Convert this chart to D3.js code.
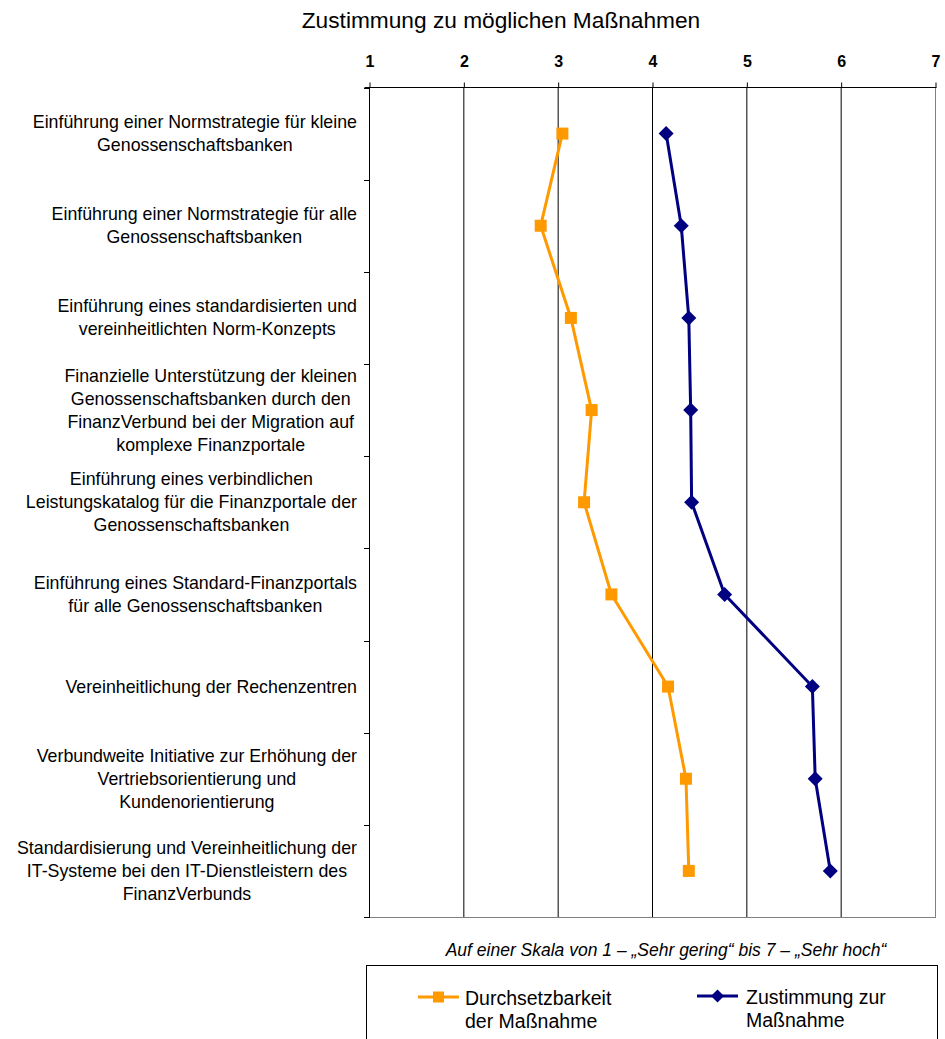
<!DOCTYPE html>
<html><head><meta charset="utf-8">
<script src="https://cdn.jsdelivr.net/npm/d3@7"></script>
<style>
body{margin:0;background:#fff;}
svg{display:block;font-family:"Liberation Sans",Arial,sans-serif;}
</style></head>
<body>
<svg id="chart" width="945" height="1039"></svg>
<script>
const title = "Zustimmung zu möglichen Maßnahmen";
const categories = [
  ["Einführung einer Normstrategie für kleine","Genossenschaftsbanken"],
  ["Einführung einer Normstrategie für alle","Genossenschaftsbanken"],
  ["Einführung eines standardisierten und","vereinheitlichten Norm-Konzepts"],
  ["Finanzielle Unterstützung der kleinen","Genossenschaftsbanken durch den","FinanzVerbund bei der Migration auf","komplexe Finanzportale"],
  ["Einführung eines verbindlichen","Leistungskatalog für die Finanzportale der","Genossenschaftsbanken"],
  ["Einführung eines Standard-Finanzportals","für alle Genossenschaftsbanken"],
  ["Vereinheitlichung der Rechenzentren"],
  ["Verbundweite Initiative zur Erhöhung der","Vertriebsorientierung und","Kundenorientierung"],
  ["Standardisierung und Vereinheitlichung der","IT-Systeme bei den IT-Dienstleistern des","FinanzVerbunds"]
];
const durchsetzbarkeit = [3.05, 2.82, 3.14, 3.36, 3.28, 3.57, 4.17, 4.36, 4.39];
const zustimmung = [4.15, 4.31, 4.39, 4.41, 4.42, 4.77, 5.70, 5.73, 5.89];
const xTicks = [1, 2, 3, 4, 5, 6, 7];
const seriesNames = [["Durchsetzbarkeit","der Maßnahme"],["Zustimmung zur","Maßnahme"]];
const note = "Auf einer Skala von 1 – „Sehr gering“ bis 7 – „Sehr hoch“";

(function(){
const svg = d3.select("#chart");
const pL = 369, pR = 935, pT = 87.5, pB = 917;
const ORANGE = "#FF9900", NAVY = "#000080";

const x = d3.scaleLinear().domain([1,7]).range([pL,pR]);
const y = d3.scaleBand().domain(d3.range(categories.length)).range([pT,pB]).padding(0);
const yc = i => y(i) + y.bandwidth()/2;

svg.append("text").attr("x",501).attr("y",28).attr("text-anchor","middle")
  .attr("font-size",22.7).attr("fill","#000").text(title);

svg.append("g").selectAll("line").data(xTicks.slice(1,-1)).join("line")
  .attr("x1",d=>x(d)+0.5).attr("x2",d=>x(d)+0.5).attr("y1",pT).attr("y2",pB)
  .attr("stroke","#000").attr("stroke-width",1);
svg.append("line").attr("x1",x(7)+0.5).attr("x2",x(7)+0.5).attr("y1",pT).attr("y2",pB)
  .attr("stroke","#808080");
svg.append("line").attr("x1",pL).attr("x2",pR+1).attr("y1",pB+0.5).attr("y2",pB+0.5)
  .attr("stroke","#808080");

const gx = svg.append("g").attr("transform",`translate(0.5,${pT})`)
  .call(d3.axisTop(x).tickValues(xTicks).tickSize(5).tickPadding(16).tickSizeOuter(0).tickFormat(d3.format("d")));
gx.select(".domain").attr("stroke","#000").attr("d",`M${pL-5},0H${pR+1}`);
gx.selectAll(".tick line").attr("stroke","#000");
gx.selectAll(".tick text").attr("font-size",16).attr("font-weight","bold").attr("fill","#000")
  .attr("font-family","'Liberation Sans',Arial,sans-serif");

svg.append("line").attr("x1",pL+0.5).attr("x2",pL+0.5).attr("y1",pT).attr("y2",pB+1).attr("stroke","#000");
const bounds = d3.range(categories.length).map(i=>y(i)+y.bandwidth()).concat([pT]);
svg.append("g").selectAll("line").data(bounds).join("line")
  .attr("x1",pL-5).attr("x2",pL).attr("y1",d=>Math.round(d)+0.5).attr("y2",d=>Math.round(d)+0.5)
  .attr("stroke","#000");

const lh = 23, labelRight = 357;
const lab = svg.append("g").attr("font-size",17.8).attr("fill","#000");
categories.forEach((lines,i)=>{
  const g = lab.append("g");
  const texts = lines.map((t,k)=> g.append("text").attr("text-anchor","middle")
    .attr("y", yc(i) + (k - (lines.length-1)/2)*lh + 6).text(t));
  const maxW = d3.max(texts, t=>t.node().getComputedTextLength());
  texts.forEach(t=>t.attr("x", labelRight - maxW/2));
});

const line = d3.line().x(d=>x(d[1])).y(d=>yc(d[0]));
svg.append("path").datum(durchsetzbarkeit.map((v,i)=>[i,v])).attr("d",line)
  .attr("fill","none").attr("stroke",ORANGE).attr("stroke-width",3);
svg.append("path").datum(zustimmung.map((v,i)=>[i,v])).attr("d",line)
  .attr("fill","none").attr("stroke",NAVY).attr("stroke-width",3);

const sq = 12, dm = 7.5;
svg.append("g").selectAll("rect").data(durchsetzbarkeit).join("rect")
  .attr("x",d=>x(d)-sq/2).attr("y",(d,i)=>yc(i)-sq/2).attr("width",sq).attr("height",sq).attr("fill",ORANGE);
const diamond = (cx,cy,r)=>`M${cx},${cy-r}L${cx+r},${cy}L${cx},${cy+r}L${cx-r},${cy}Z`;
svg.append("g").selectAll("path").data(zustimmung).join("path")
  .attr("d",(d,i)=>diamond(x(d),yc(i),dm)).attr("fill",NAVY);

svg.append("text").attr("x",666).attr("y",956).attr("text-anchor","middle")
  .attr("font-size",17.5).attr("font-style","italic").attr("fill","#000").text(note);

svg.append("rect").attr("x",366.5).attr("y",965.5).attr("width",571).attr("height",120)
  .attr("fill","none").attr("stroke","#000");
const leg = [{c:ORANGE,x0:418,ty:997,tx:465,m:"sq"},{c:NAVY,x0:697,ty:996,tx:746,m:"dm"}];
leg.forEach((L,k)=>{
  svg.append("line").attr("x1",L.x0).attr("x2",L.x0+41).attr("y1",L.ty).attr("y2",L.ty)
    .attr("stroke",L.c).attr("stroke-width",3);
  if(L.m==="sq") svg.append("rect").attr("x",L.x0+20.5-5.5).attr("y",L.ty-5.5).attr("width",11).attr("height",11).attr("fill",L.c);
  else svg.append("path").attr("d",diamond(L.x0+20.5,L.ty,6.5)).attr("fill",L.c);
  seriesNames[k].forEach((t,j)=>{
    svg.append("text").attr("x",L.tx).attr("y",L.ty+8+j*22.5).attr("font-size",19.5).attr("fill","#000").text(t);
  });
});
})();
</script>
</body></html>
